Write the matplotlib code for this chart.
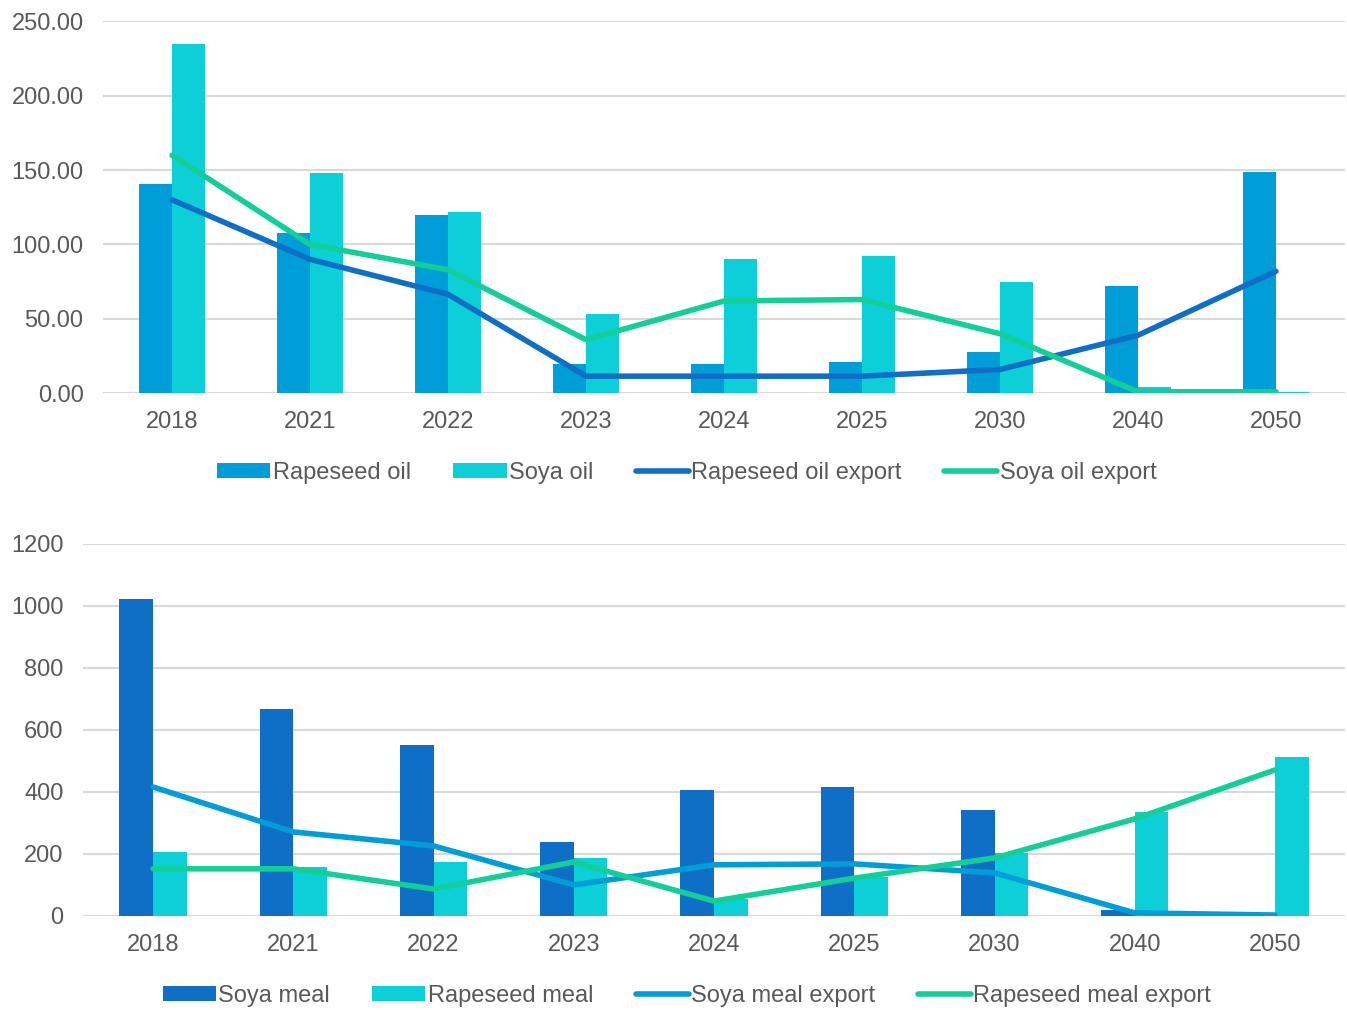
import numpy as np
import matplotlib.pyplot as plt

plt.rcParams['font.family'] = ['Liberation Sans', 'DejaVu Sans']

years = ['2018', '2021', '2022', '2023', '2024', '2025', '2030', '2040', '2050']

# oils
rapeseed_oil = [140.5, 107.5, 119.5, 20, 20, 21, 28, 72, 148.5]
soya_oil = [234.5, 148, 122, 53, 90, 92, 75, 4, 0.8]
rapeseed_oil_export = [130, 90, 66.5, 11.5, 11.5, 11.5, 16, 39, 82]
soya_oil_export = [160, 100, 83, 36, 62, 63, 40, 1, 1]

# meals
soya_meal = [1022, 668, 552, 239, 406, 416, 342, 19, 0]
rapeseed_meal = [206, 158, 174, 187, 55, 126, 203, 336, 513]
soya_meal_export = [416, 271, 226, 100, 165, 168, 139, 10, 3]
rapeseed_meal_export = [152, 152, 87, 174, 48, 122, 187, 313, 471]

c_mid = '#009ED8'
c_cyan = '#0CCFD8'
c_dark = '#0F6FC6'
c_green = '#12CF97'
grid_c = '#D9D9D9'
txt_c = '#595959'
fs = 17

fig = plt.figure(figsize=(13.47, 10.11), dpi=100)
ax1 = fig.add_axes([0.0765, 0.611, 0.922, 0.368])
ax2 = fig.add_axes([0.0616, 0.094, 0.937, 0.368])

x = np.arange(len(years))
w = 0.24


def style(ax, ymax, ticks, fmt):
    ax.set_xlim(-0.5, len(years) - 0.5)
    ax.set_ylim(0, ymax)
    ax.set_yticks(ticks)
    ax.set_yticklabels([fmt.format(t) for t in ticks])
    ax.set_xticks(x)
    ax.set_xticklabels(years)
    ax.yaxis.grid(True, color=grid_c, linewidth=1.5)
    ax.set_axisbelow(True)
    for s in ax.spines.values():
        s.set_visible(False)
    ax.tick_params(axis='x', length=0, labelsize=fs, colors=txt_c, pad=13)
    ax.tick_params(axis='y', length=0, labelsize=fs, colors=txt_c, pad=14)


def legend(ax, y):
    h, l = ax.get_legend_handles_labels()
    order = [2, 3, 0, 1]
    fig.legend([h[i] for i in order], [l[i] for i in order],
               loc='center', bbox_to_anchor=(0.51, y), ncol=4, frameon=False,
               fontsize=fs, labelcolor=txt_c, handlelength=2.25, handleheight=0.6,
               handletextpad=0.1, columnspacing=1.8)


ax1.plot(x, rapeseed_oil_export, color=c_dark, lw=4, solid_capstyle='round',
         label='Rapeseed oil export', zorder=3)
ax1.plot(x, soya_oil_export, color=c_green, lw=4, solid_capstyle='round',
         label='Soya oil export', zorder=3)
ax1.bar(x - w / 2, rapeseed_oil, w, color=c_mid, label='Rapeseed oil')
ax1.bar(x + w / 2, soya_oil, w, color=c_cyan, label='Soya oil')
style(ax1, 250, [0, 50, 100, 150, 200, 250], '{:.2f}')
legend(ax1, 1 - 473 / 1011)

ax2.plot(x, soya_meal_export, color=c_mid, lw=4, solid_capstyle='round',
         label='Soya meal export', zorder=3)
ax2.plot(x, rapeseed_meal_export, color=c_green, lw=4, solid_capstyle='round',
         label='Rapeseed meal export', zorder=3)
ax2.bar(x - w / 2, soya_meal, w, color=c_dark, label='Soya meal')
ax2.bar(x + w / 2, rapeseed_meal, w, color=c_cyan, label='Rapeseed meal')
style(ax2, 1200, [0, 200, 400, 600, 800, 1000, 1200], '{:.0f}')
legend(ax2, 1 - 996 / 1011)

fig.savefig('out.png', dpi=100, facecolor='white')
